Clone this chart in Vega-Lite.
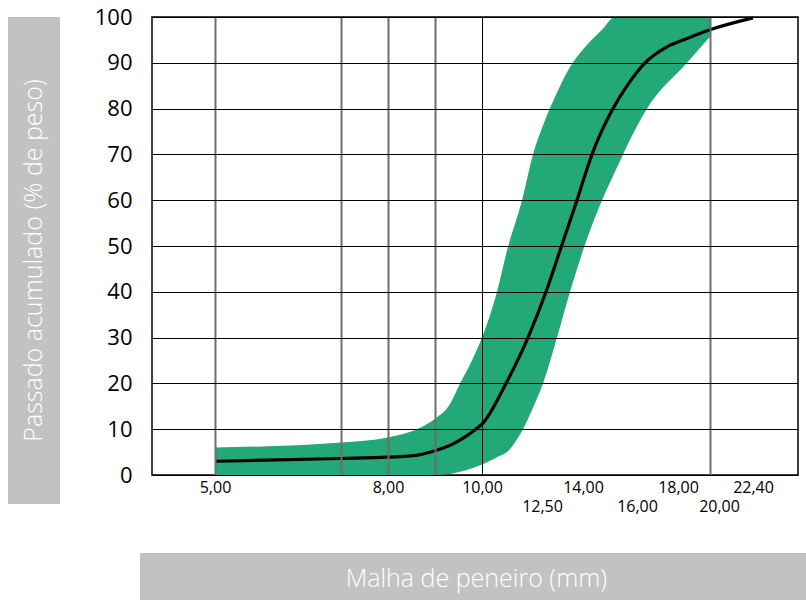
{
  "$schema": "https://vega.github.io/schema/vega-lite/v6.json",
  "background": "#ffffff",
  "padding": {"left": 8, "top": 5, "right": 0, "bottom": 0},
  "autosize": {"type": "pad"},
  "config": {
    "font": "Open Sans",
    "view": {"stroke": null},
    "axis": {"labelFont": "Open Sans"}
  },
  "datasets": {
    "curve": [
      {"mm": 5, "pct": 3.0},
      {"mm": 7.185, "pct": 3.6},
      {"mm": 8, "pct": 3.9},
      {"mm": 8.53, "pct": 4.2},
      {"mm": 9.0, "pct": 5.3},
      {"mm": 9.383, "pct": 6.8},
      {"mm": 9.681, "pct": 8.6},
      {"mm": 9.894, "pct": 10.2},
      {"mm": 10, "pct": 11.1},
      {"mm": 11.0, "pct": 20},
      {"mm": 11.917, "pct": 30},
      {"mm": 12.646, "pct": 40},
      {"mm": 13.159, "pct": 49},
      {"mm": 13.78, "pct": 60},
      {"mm": 14.333, "pct": 70},
      {"mm": 15.111, "pct": 80},
      {"mm": 15.667, "pct": 85.3},
      {"mm": 16.39, "pct": 90},
      {"mm": 17.463, "pct": 93.5},
      {"mm": 18.5625, "pct": 95.3},
      {"mm": 20, "pct": 97.2},
      {"mm": 22.4, "pct": 99.8}
    ],
    "band": [
      {"mm": 5, "upper": 6.0, "lower": 0},
      {"mm": 7.185, "upper": 7.1, "lower": 0},
      {"mm": 8, "upper": 8.2, "lower": 0},
      {"mm": 8.681, "upper": 10.3, "lower": 0},
      {"mm": 9.0, "upper": 12.3, "lower": 0},
      {"mm": 9.319, "upper": 15.5, "lower": 0.2},
      {"mm": 9.532, "upper": 20, "lower": 0.7},
      {"mm": 9.787, "upper": 25, "lower": 1.5},
      {"mm": 10, "upper": 30, "lower": 2.3},
      {"mm": 10.625, "upper": 40, "lower": 3.9},
      {"mm": 11.042, "upper": 49, "lower": 5.0},
      {"mm": 11.667, "upper": 60, "lower": 9.6},
      {"mm": 12.125, "upper": 70, "lower": 14.7},
      {"mm": 12.537, "upper": 76.3, "lower": 20},
      {"mm": 13.049, "upper": 83.5, "lower": 30},
      {"mm": 13.524, "upper": 89.1, "lower": 40},
      {"mm": 14, "upper": 92.9, "lower": 49},
      {"mm": 14.704, "upper": 97.2, "lower": 60},
      {"mm": 15.185, "upper": 100, "lower": 66.2},
      {"mm": 15.481, "upper": 100, "lower": 70},
      {"mm": 16.488, "upper": 100, "lower": 80},
      {"mm": 18.5625, "upper": 100, "lower": 90},
      {"mm": 20, "upper": 100, "lower": 95.7}
    ],
    "ytitle": [{"label": "Passado acumulado (% de peso)"}],
    "xtitle": [{"label": "Malha de peneiro (mm)"}],
    "blank": [{"label": ""}]
  },
  "columns": 2,
  "align": "none",
  "bounds": "flush",
  "spacing": {"row": 49, "column": 92},
  "concat": [
    {
      "width": 52,
      "height": 487,
      "data": {"name": "ytitle"},
      "layer": [
        {
          "mark": {"type": "rect", "color": "#c2c2c2"},
          "encoding": {
            "x": {"datum": 0, "type": "quantitative", "scale": {"domain": [0, 1], "nice": false, "zero": false}, "axis": null},
            "x2": {"datum": 1},
            "y": {"datum": 0, "type": "quantitative", "scale": {"domain": [0, 1], "nice": false, "zero": false}, "axis": null},
            "y2": {"datum": 1}
          }
        },
        {
          "mark": {"type": "text", "angle": 270, "color": "#ffffff", "fontSize": 25, "font": "Open Sans", "fontWeight": 300, "align": "center", "baseline": "middle"},
          "encoding": {
            "x": {"datum": 0.5, "type": "quantitative", "scale": {"domain": [0, 1], "nice": false, "zero": false}, "axis": null},
            "y": {"datum": 0.5, "type": "quantitative", "scale": {"domain": [0, 1], "nice": false, "zero": false}, "axis": null},
            "text": {"field": "label"}
          }
        }
      ]
    },
    {
      "width": 646,
      "height": 458,
      "view": {"stroke": "#000000", "strokeWidth": 1.5},
      "layer": [
        {
          "data": {"name": "band"},
          "mark": {"type": "area", "color": "#23a878", "opacity": 1, "interpolate": "monotone"},
          "encoding": {
            "x": {
              "field": "mm",
              "type": "quantitative",
              "scale": {
                "domain": [3.908, 5, 8, 10, 12.5, 14, 16, 18, 20, 22.4, 24.91],
                "range": [0, 63, 236, 330, 390, 431, 485, 526, 558, 601, 646],
                "nice": false,
                "zero": false
              },
              "axis": {
                "title": null,
                "values": [5, 7.185, 8, 9, 10, 12.5, 14, 16, 18, 20, 22.4],
                "labelExpr": "datum.value == 7.185 || datum.value == 9 ? '' : replace(format(datum.value, '.2f'), '.', ',')",
                "labelFontSize": 16,
                "labelColor": "#000000",
                "labelPadding": {"condition": {"test": "datum.value == 12.5 || datum.value == 16 || datum.value == 20", "value": 23}, "value": 4},
                "labelOffset": {"condition": {"test": "datum.value == 20", "value": 9}, "value": 0},
                "labelFlush": false,
                "labelOverlap": false,
                "ticks": false,
                "domain": false,
                "grid": true,
                "zindex": 1,
                "gridColor": {"condition": {"test": "datum.value == 10", "value": "#000000"}, "value": "#6e6e6e"},
                "gridWidth": {"condition": {"test": "datum.value == 10", "value": 1}, "value": 2},
                "gridOpacity": {"condition": {"test": "datum.value <= 10 || datum.value == 20", "value": 1}, "value": 0}
              }
            },
            "y": {
              "field": "upper",
              "type": "quantitative",
              "scale": {"domain": [0, 100], "nice": false, "zero": true},
              "axis": {
                "title": null,
                "values": [0, 10, 20, 30, 40, 50, 60, 70, 80, 90, 100],
                "labelFontSize": 22,
                "labelColor": "#000000",
                "labelPadding": 20,
                "labelFlush": false,
                "labelOverlap": false,
                "ticks": false,
                "domain": false,
                "grid": true,
                "gridColor": "#000000",
                "gridWidth": 1,
                "zindex": 1
              }
            },
            "y2": {"field": "lower"}
          }
        },
        {
          "data": {"name": "curve"},
          "mark": {"type": "line", "color": "#000000", "strokeWidth": 3.2, "interpolate": "monotone"},
          "encoding": {
            "x": {"field": "mm", "type": "quantitative"},
            "y": {"field": "pct", "type": "quantitative"}
          }
        }
      ]
    },
    {
      "width": 40,
      "height": 48,
      "data": {"name": "blank"},
      "mark": {"type": "text"},
      "encoding": {"text": {"field": "label"}}
    },
    {
      "width": 654,
      "height": 48,
      "data": {"name": "xtitle"},
      "layer": [
        {
          "mark": {"type": "rect", "color": "#c2c2c2"},
          "encoding": {
            "x": {"datum": -0.01835, "type": "quantitative", "scale": {"domain": [0, 1], "nice": false, "zero": false}, "axis": null},
            "x2": {"datum": 1},
            "y": {"datum": 0, "type": "quantitative", "scale": {"domain": [0, 1], "nice": false, "zero": false}, "axis": null},
            "y2": {"datum": 1}
          }
        },
        {
          "mark": {"type": "text", "color": "#ffffff", "fontSize": 25, "font": "Open Sans", "fontWeight": 300, "align": "center", "baseline": "middle"},
          "encoding": {
            "x": {"datum": 0.496, "type": "quantitative", "scale": {"domain": [0, 1], "nice": false, "zero": false}, "axis": null},
            "y": {"datum": 0.45, "type": "quantitative", "scale": {"domain": [0, 1], "nice": false, "zero": false}, "axis": null},
            "text": {"field": "label"}
          }
        }
      ]
    }
  ]
}
